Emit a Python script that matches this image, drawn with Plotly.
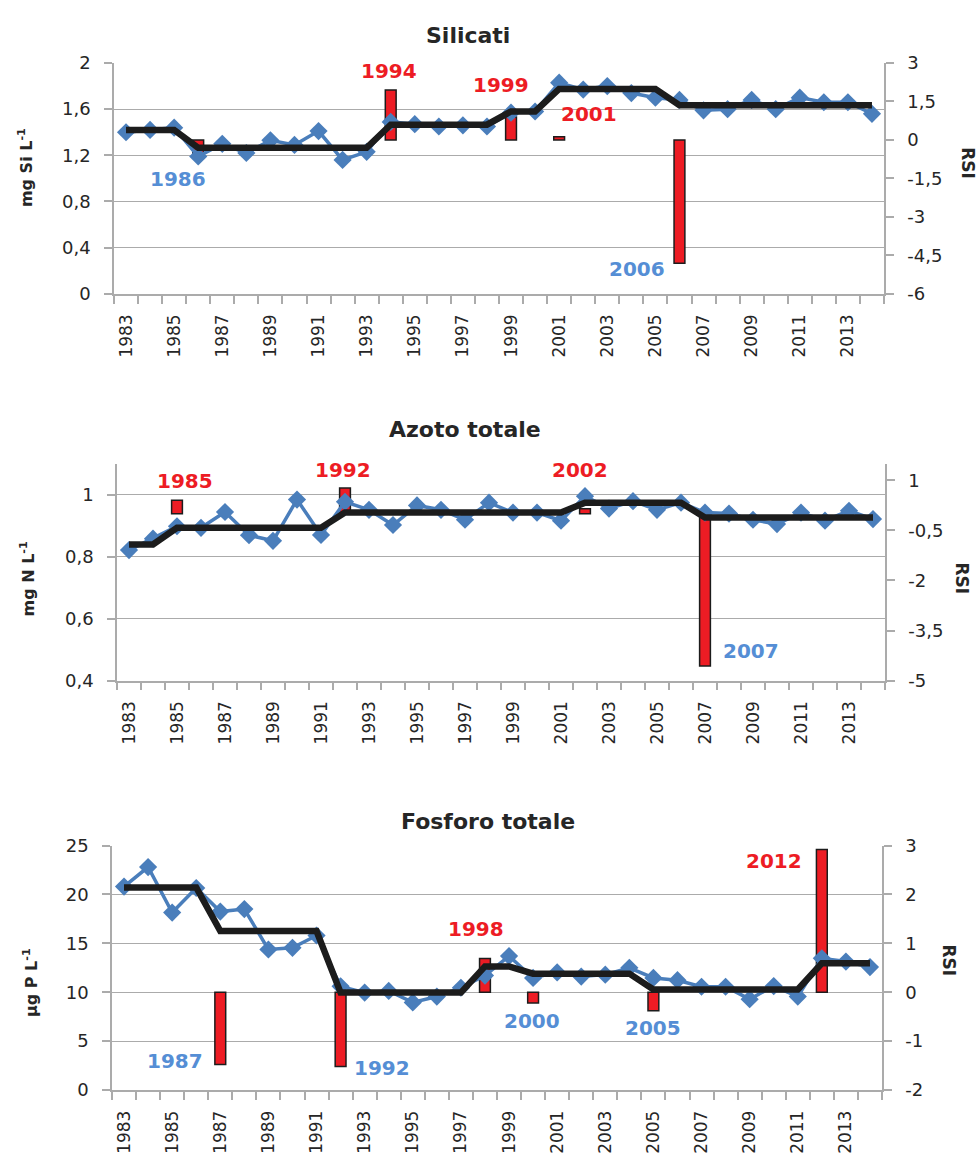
import plotly.graph_objects as go

# ---------------------------------------------------------------- data
YEARS = [1983, 1984, 1985, 1986, 1987, 1988, 1989, 1990, 1991, 1992, 1993,
         1994, 1995, 1996, 1997, 1998, 1999, 2000, 2001, 2002, 2003, 2004,
         2005, 2006, 2007, 2008, 2009, 2010, 2011, 2012, 2013, 2014]
X_TICKS = [1983, 1985, 1987, 1989, 1991, 1993, 1995, 1997, 1999, 2001,
           2003, 2005, 2007, 2009, 2011, 2013]

# Silicati (mg Si/L): annual values and regime means
SI_VALUES = [1.40, 1.42, 1.44, 1.19, 1.30, 1.22, 1.33, 1.29, 1.41, 1.16, 1.23,
             1.49, 1.47, 1.45, 1.46, 1.45, 1.57, 1.58, 1.83, 1.77, 1.80, 1.74,
             1.70, 1.68, 1.59, 1.60, 1.68, 1.60, 1.70, 1.66, 1.66, 1.56]
SI_MEAN = [1.42, 1.42, 1.42, 1.265, 1.265, 1.265, 1.265, 1.265, 1.265, 1.265, 1.265,
           1.466, 1.466, 1.466, 1.466, 1.466, 1.58, 1.58, 1.776, 1.776, 1.776, 1.776,
           1.776, 1.634, 1.634, 1.634, 1.634, 1.634, 1.634, 1.634, 1.634, 1.634]
SI_SHIFT_YEARS = [1986, 1994, 1999, 2001, 2006]
SI_RSI = [-0.55, 1.95, 0.9, 0.12, -4.81]

# Azoto totale (mg N/L)
N_VALUES = [0.821, 0.858, 0.898, 0.893, 0.944, 0.869, 0.851, 0.984, 0.870, 0.977, 0.951,
            0.902, 0.965, 0.951, 0.919, 0.974, 0.942, 0.942, 0.916, 0.995, 0.955, 0.979,
            0.951, 0.974, 0.942, 0.939, 0.919, 0.905, 0.942, 0.916, 0.948, 0.921]
N_MEAN = [0.839, 0.839, 0.893, 0.893, 0.893, 0.893, 0.893, 0.893, 0.893, 0.942, 0.942,
          0.942, 0.942, 0.942, 0.942, 0.942, 0.942, 0.942, 0.942, 0.974, 0.974, 0.974,
          0.974, 0.974, 0.926, 0.926, 0.926, 0.926, 0.926, 0.926, 0.926, 0.926]
N_SHIFT_YEARS = [1985, 1992, 2002, 2007]
N_RSI = [0.40, 0.77, 0.15, -4.56]

# Fosforo totale (µg P/L)
P_VALUES = [20.8, 22.8, 18.15, 20.66, 18.25, 18.5, 14.37, 14.54, 15.8, 10.6, 9.96,
            10.13, 8.96, 9.56, 10.46, 11.7, 13.7, 11.46, 12.03, 11.6, 11.8, 12.5,
            11.46, 11.23, 10.56, 10.56, 9.29, 10.63, 9.56, 13.47, 13.14, 12.57]
P_MEAN = [20.72, 20.72, 20.72, 20.72, 16.25, 16.25, 16.25, 16.25, 16.25, 9.96, 9.96,
          9.96, 9.96, 9.96, 9.96, 12.64, 12.64, 11.9, 11.9, 11.9, 11.9, 11.9,
          10.29, 10.29, 10.29, 10.29, 10.29, 10.29, 10.29, 12.97, 12.97, 12.97]
P_SHIFT_YEARS = [1987, 1992, 1998, 2000, 2005, 2012]
P_RSI = [-1.48, -1.52, 0.69, -0.22, -0.38, 2.92]

SI_TICKS = [0, 0.4, 0.8, 1.2, 1.6, 2]
SI_RSI_TICKS = [-6, -4.5, -3, -1.5, 0, 1.5, 3]
N_TICKS = [0.4, 0.6, 0.8, 1.0]
N_RSI_TICKS = [-5, -3.5, -2, -0.5, 1]
P_TICKS = [0, 5, 10, 15, 20, 25]
P_RSI_TICKS = [-2, -1, 0, 1, 2, 3]

# ---------------------------------------------------------------- style
W, H = 979, 1155
FONT = "DejaVu Sans"
BLUE = "#4A7EBB"
LABEL_BLUE = "#558ED5"
RED = "#ED1C24"
BLACK = "#1C1C1C"
GRID = "#ABABAB"
TEXT = "#262626"

PANELS = [
    dict(title="Silicati", title_xy=(468, 25), unit="mg Si L<sup>-1</sup>",
         unit_xy=(25, 160), rsi_xy=(968, 155),
         values=SI_VALUES, mean=SI_MEAN, shift_years=SI_SHIFT_YEARS, rsi=SI_RSI,
         box=(114, 884, 53, 288), conc_range=[0, 2], conc_ticks=SI_TICKS,
         rsi_range=[-6, 3], rsi_ticks=SI_RSI_TICKS,
         label_pos=[(1985.16, -1.52), (1993.93, 2.69), (1998.59, 2.16),
                    (2002.24, 1.03), (2004.24, -5.04)]),
    dict(title="Azoto totale", title_xy=(465, 426), unit="mg N L<sup>-1</sup>",
         unit_xy=(28, 578), rsi_xy=(962, 578),
         values=N_VALUES, mean=N_MEAN, shift_years=N_SHIFT_YEARS, rsi=N_RSI,
         box=(117, 885, 461, 682), conc_range=[0.4, 1.1], conc_ticks=N_TICKS,
         rsi_range=[-5, 1.5], rsi_ticks=N_RSI_TICKS,
         label_pos=[(1985.33, 0.97), (1991.9, 1.31), (2001.8, 1.32),
                    (2008.9, -4.10)]),
    dict(title="Fosforo totale", title_xy=(488, 825), unit="µg P L<sup>-1</sup>",
         unit_xy=(30, 990), rsi_xy=(949, 967),
         values=P_VALUES, mean=P_MEAN, shift_years=P_SHIFT_YEARS, rsi=P_RSI,
         box=(112, 882, 850, 1099), conc_range=[0, 25], conc_ticks=P_TICKS,
         rsi_range=[-2, 3], rsi_ticks=P_RSI_TICKS,
         label_pos=[(1985.12, -1.41), (1993.70, -1.54), (1997.61, 1.29),
                    (1999.94, -0.59), (2004.97, -0.74), (2010.0, 2.68)]),
]


def fmt(v):
    return f"{v:g}".replace(".", ",")


def px_x(p):
    return p / W


def px_y(p):
    return 1 - p / H


fig = go.Figure()
layout = dict(
    width=W, height=H, margin=dict(l=0, r=0, t=0, b=0),
    paper_bgcolor="white", plot_bgcolor="white", showlegend=False,
    font=dict(family=FONT, color=TEXT), annotations=[],
)

boundaries = [y - 0.5 for y in YEARS] + [YEARS[-1] + 0.5]

for i, p in enumerate(PANELS):
    xname = "x" if i == 0 else f"x{i + 1}"
    rsi_name = "y" if i == 0 else f"y{2 * i + 1}"
    conc_name = f"y{2 * i + 2}"
    x0, x1, ytop, ybot = p["box"]
    xdom = [px_x(x0), px_x(x1)]
    ydom = [px_y(ybot), px_y(ytop)]

    # RSI bars on the right-hand axis
    fig.add_trace(go.Bar(
        x=p["shift_years"], y=p["rsi"], width=0.45,
        marker=dict(color=RED, line=dict(color=BLACK, width=1.5)),
        xaxis=xname, yaxis=rsi_name,
    ))
    # annual values
    fig.add_trace(go.Scatter(
        x=YEARS, y=p["values"], mode="lines+markers",
        line=dict(color=BLUE, width=3.5),
        marker=dict(symbol="diamond", size=14, color=BLUE),
        xaxis=xname, yaxis=conc_name,
    ))
    # regime means
    fig.add_trace(go.Scatter(
        x=YEARS, y=p["mean"], mode="lines",
        line=dict(color=BLACK, width=6.5),
        xaxis=xname, yaxis=conc_name,
    ))

    xkey = "xaxis" if i == 0 else f"xaxis{i + 1}"
    layout[xkey] = dict(
        domain=xdom, anchor=rsi_name, range=[1982.5, 2014.5],
        tickmode="array", tickvals=X_TICKS, ticktext=[str(t) for t in X_TICKS],
        tickangle=-90, ticks="", ticklabelstandoff=12,
        tickfont=dict(family=FONT, size=17, color=TEXT),
        showline=True, linecolor=GRID, linewidth=1.5,
        showgrid=False, zeroline=False,
        minor=dict(tickmode="array", tickvals=boundaries, ticks="outside",
                   ticklen=8, tickcolor=GRID, tickwidth=1.5, showgrid=False),
    )
    rkey = "yaxis" if i == 0 else f"yaxis{2 * i + 1}"
    layout[rkey] = dict(
        domain=ydom, anchor=xname, side="right", range=p["rsi_range"],
        tickmode="array", tickvals=p["rsi_ticks"],
        ticktext=[fmt(v) for v in p["rsi_ticks"]],
        ticks="outside", ticklen=8, tickcolor=GRID, tickwidth=1.5,
        ticklabelstandoff=10,
        tickfont=dict(family=FONT, size=18, color=TEXT),
        showline=True, linecolor=GRID, linewidth=1.5,
        showgrid=False, zeroline=False,
    )
    ckey = f"yaxis{2 * i + 2}"
    layout[ckey] = dict(
        overlaying=rsi_name, anchor=xname, side="left", range=p["conc_range"],
        tickmode="array", tickvals=p["conc_ticks"],
        ticktext=[fmt(v) for v in p["conc_ticks"]],
        ticks="outside", ticklen=8, tickcolor=GRID, tickwidth=1.5,
        ticklabelstandoff=10,
        tickfont=dict(family=FONT, size=18, color=TEXT),
        showline=True, linecolor=GRID, linewidth=1.5,
        showgrid=True, gridcolor=GRID, gridwidth=1.3, zeroline=False,
    )

    # year labels for the shifts: red = upward, blue = downward
    for yr, v, (lx, ly) in zip(p["shift_years"], p["rsi"], p["label_pos"]):
        layout["annotations"].append(dict(
            text=f"<b>{yr}</b>", x=lx, y=ly, xref=xname, yref=rsi_name,
            showarrow=False, xanchor="center", yanchor="middle",
            font=dict(family=FONT, size=20, color=RED if v > 0 else LABEL_BLUE),
        ))

    tx, ty = p["title_xy"]
    layout["annotations"].append(dict(
        text=f"<b>{p['title']}</b>", x=px_x(tx), y=px_y(ty),
        xref="paper", yref="paper", showarrow=False,
        xanchor="center", yanchor="middle",
        font=dict(family=FONT, size=22, color=TEXT),
    ))
    ux, uy = p["unit_xy"]
    layout["annotations"].append(dict(
        text=f"<b>{p['unit']}</b>", x=px_x(ux), y=px_y(uy),
        xref="paper", yref="paper", showarrow=False, textangle=-90,
        xanchor="center", yanchor="middle",
        font=dict(family=FONT, size=16, color=TEXT),
    ))
    rx, ry = p["rsi_xy"]
    layout["annotations"].append(dict(
        text="<b>RSI</b>", x=px_x(rx), y=px_y(ry),
        xref="paper", yref="paper", showarrow=False, textangle=90,
        xanchor="center", yanchor="middle",
        font=dict(family=FONT, size=17, color=TEXT),
    ))

fig.update_layout(**layout)
fig.write_html("out.html")
